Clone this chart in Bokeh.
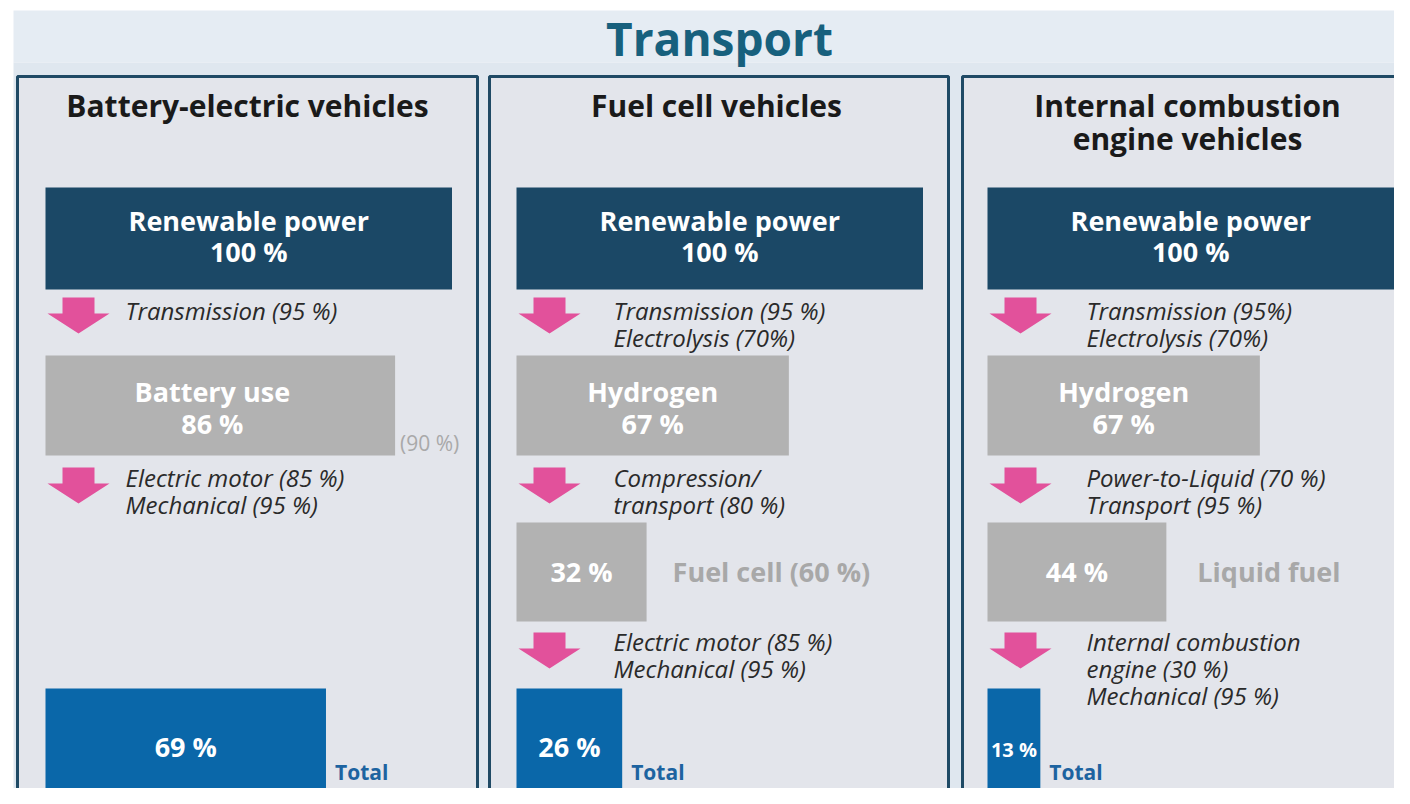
from bokeh.plotting import figure
from bokeh.models import Range1d, ColumnDataSource
from bokeh.core.properties import value
from bokeh.embed import file_html
from bokeh.resources import INLINE

# ---------------- data ----------------
title = "Transport"
panel_titles = [["Battery-electric vehicles"], ["Fuel cell vehicles"],
                ["Internal combustion", "engine vehicles"]]
source_labels = ["Renewable power", "Renewable power", "Renewable power"]
source_values = [100, 100, 100]
mid_labels = ["Battery use", "Hydrogen", "Hydrogen"]
mid_values = [86, 67, 67]
second_values = [None, 32, 44]
second_notes = ["", "Fuel cell (60 %)", "Liquid fuel"]
total_values = [69, 26, 13]
battery_note = "(90 %)"
step1 = [["Transmission (95 %)"],
         ["Transmission (95 %)", "Electrolysis (70%)"],
         ["Transmission (95%)", "Electrolysis  (70%)"]]
step2 = [["Electric motor  (85 %)", "Mechanical (95 %)"],
         ["Compression/", "transport  (80 %)"],
         ["Power-to-Liquid (70 %)", "Transport (95 %)"]]
step3 = [[],
         ["Electric motor (85 %)", "Mechanical (95 %)"],
         ["Internal combustion", "engine (30 %)", "Mechanical (95 %)"]]
total_label = "Total"

# ---------------- layout / style ----------------
W, H = 1394, 788
PX = 4.065                      # pixels per percent
panel_x0 = [17, 489, 962]
panel_x1 = [477, 948, 1430]
title_cx = [247, 716, 1187]
bar_left = [45, 516, 987]
desc_x = [125, 613, 1086]
rows = {"src": (187, 289), "mid": (355, 455), "sec": (522, 621), "tot": (688, 789)}
arrow_tops = [297, 467, 632]

C_NAVY = "#1b4866"
C_GREY = "#b2b2b2"
C_BLUE = "#0a67a9"
C_PINK = "#e2519b"
C_TITLE = "#17607d"
FONT = "Open Sans"

p = figure(width=W, height=H, x_range=Range1d(0, W), y_range=Range1d(H, 0),
           output_backend="svg", toolbar_location=None, tools="",
           x_axis_location=None, y_axis_location=None, min_border=0)
p.grid.visible = False
p.outline_line_color = None
p.background_fill_color = "white"
p.border_fill_color = "white"

# backgrounds
p.quad(left=[13], right=[1420], top=[10], bottom=[62], fill_color="#e5ecf3", line_color=None)
p.quad(left=[13], right=[1420], top=[62], bottom=[810], fill_color="#dfe7ef", line_color=None)

# panels
p.quad(left=panel_x0, right=panel_x1, top=[76] * 3, bottom=[830] * 3,
       fill_color="#e3e5eb", line_color="#1f4a65", line_width=3)


def texts(xs, ys, ts, size, color, style="bold", align="center", font=FONT):
    src = ColumnDataSource(dict(x=xs, y=ys, t=ts))
    p.text(x="x", y="y", text="t", source=src, text_font=value(font),
           text_font_size=f"{size}px", text_font_style=style, text_color=color,
           text_align=align, text_baseline="middle")


texts([719], [37], [title], 46, C_TITLE)

# panel titles
tx, ty, tt = [], [], []
for i, lines in enumerate(panel_titles):
    for k, line in enumerate(lines):
        tx.append(title_cx[i]); ty.append(105 + 33 * k); tt.append(line)
texts(tx, ty, tt, 30, "#1a1a1a")


def bars(vals, row, color):
    t, b = rows[row]
    l, r, tops, bots = [], [], [], []
    for i, v in enumerate(vals):
        if v is None:
            continue
        l.append(bar_left[i]); r.append(bar_left[i] + v * PX); tops.append(t); bots.append(b)
    p.quad(left=l, right=r, top=tops, bottom=bots, fill_color=color, line_color=None)


bars(source_values, "src", C_NAVY)
bars(mid_values, "mid", C_GREY)
bars(second_values, "sec", C_GREY)
bars(total_values, "tot", C_BLUE)

# bar labels
lx, ly, lt = [], [], []
for i in range(3):
    cx = bar_left[i] + source_values[i] * PX / 2
    lx += [cx, cx]; ly += [220, 251]; lt += [source_labels[i], f"{source_values[i]} %"]
    cx = bar_left[i] + mid_values[i] * PX / 2
    if i == 0:
        cx -= 8
    lx += [cx, cx]; ly += [391, 423]; lt += [mid_labels[i], f"{mid_values[i]} %"]
    if second_values[i] is not None:
        cx = bar_left[i] + second_values[i] * PX / 2
        lx.append(cx); ly.append(571); lt.append(f"{second_values[i]} %")
for i in range(2):
    cx = bar_left[i] + total_values[i] * PX / 2
    lx.append(cx); ly.append(746); lt.append(f"{total_values[i]} %")
texts(lx, ly, lt, 27, "white")
texts([bar_left[2] + total_values[2] * PX / 2], [749], [f"{total_values[2]} %"], 20, "white")

# grey notes
texts([bar_left[0] + mid_values[0] * PX + 5], [442], [battery_note], 21, "#a9a9a9",
      style="normal", align="left")
nx, ny, nt = [], [], []
for i in range(3):
    if second_notes[i]:
        nx.append(bar_left[i] + second_values[i] * PX + (26 if i == 1 else 31))
        ny.append(571); nt.append(second_notes[i])
texts(nx, ny, nt, 27, "#a8a8a8", align="left")

# Total labels
texts([bar_left[i] + total_values[i] * PX + 9 for i in range(3)], [771] * 3, [total_label] * 3,
      21, "#1d63a0", align="left")

# arrows
axs, ays = [], []
for i in range(3):
    cx = bar_left[i] + 33
    steps = [step1[i], step2[i], step3[i]]
    for k, top in enumerate(arrow_tops):
        if not steps[k]:
            continue
        axs.append([cx - 16, cx + 16, cx + 16, cx + 31, cx, cx - 31, cx - 16])
        ays.append([top, top, top + 16, top + 16, top + 36, top + 16, top + 16])
p.patches(xs=axs, ys=ays, fill_color=C_PINK, line_color=None)

# step descriptions
dx, dy, dt = [], [], []
line_starts = [310, 477, 641]
for i in range(3):
    for k, lines in enumerate([step1[i], step2[i], step3[i]]):
        for j, line in enumerate(lines):
            dx.append(desc_x[i]); dy.append(line_starts[k] + 27 * j); dt.append(line)
texts(dx, dy, dt, 24, "#2a2a2a", style="italic", align="left")

open("out.html", "w").write(file_html(p, INLINE))
